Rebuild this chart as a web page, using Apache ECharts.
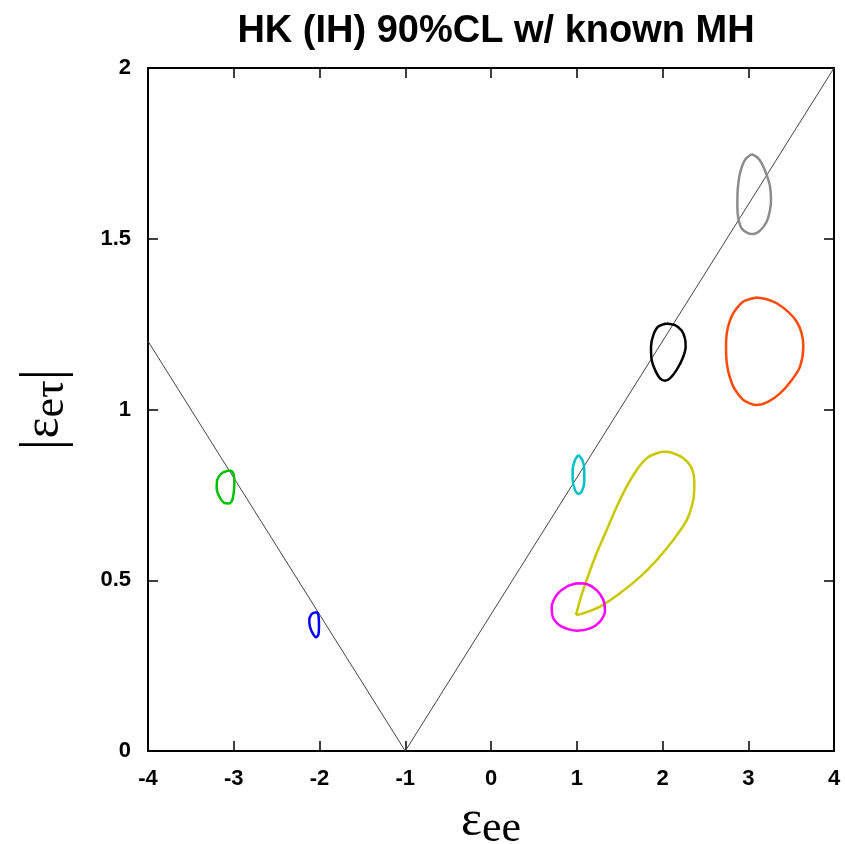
<!DOCTYPE html>
<html>
<head>
<meta charset="utf-8">
<script src="https://cdn.jsdelivr.net/npm/echarts@6/dist/echarts.min.js"></script>
<style>
  html, body { margin: 0; padding: 0; background: #fff; }
  #main { width: 845px; height: 844px; }
</style>
</head>
<body>
<div id="main"></div>
<script>
var myChart = echarts.init(document.getElementById('main'));

// reference line |eps_et| = 0.4 * |eps_ee + 1|
let vLine = [[-4, 1.2], [-1, 0], [4, 2]];

// 90% CL contours
let grayC = [[3.040,1.748],[2.962,1.731],[2.904,1.692],[2.877,1.643],[2.873,1.594],[2.884,1.560],[2.923,1.530],[3.001,1.516],[3.059,1.514],[3.137,1.524],[3.215,1.550],[3.254,1.584],[3.265,1.613],[3.254,1.653],[3.215,1.687],[3.157,1.721],[3.098,1.740],[3.040,1.748]];
let orangeC = [[3.098,1.328],[2.943,1.316],[2.826,1.282],[2.756,1.233],[2.741,1.184],[2.756,1.125],[2.826,1.067],[2.943,1.028],[3.098,1.013],[3.234,1.023],[3.370,1.047],[3.506,1.086],[3.603,1.125],[3.642,1.184],[3.623,1.223],[3.565,1.257],[3.467,1.286],[3.331,1.311],[3.215,1.323],[3.098,1.328]];
let blackC = [[2.049,1.252],[1.951,1.243],[1.893,1.218],[1.866,1.184],[1.874,1.145],[1.913,1.116],[1.971,1.091],[2.029,1.084],[2.087,1.091],[2.165,1.116],[2.235,1.150],[2.270,1.184],[2.262,1.208],[2.223,1.231],[2.146,1.247],[2.049,1.252]];
let yellowC = [[0.991,0.398],[1.038,0.442],[1.116,0.501],[1.232,0.579],[1.349,0.647],[1.466,0.715],[1.582,0.774],[1.699,0.823],[1.815,0.857],[1.932,0.872],[2.029,0.876],[2.126,0.872],[2.243,0.857],[2.340,0.828],[2.371,0.784],[2.359,0.735],[2.282,0.676],[2.126,0.618],[1.932,0.559],[1.738,0.510],[1.504,0.462],[1.271,0.423],[1.077,0.403],[0.991,0.398]];
let magentaC = [[0.999,0.491],[0.882,0.481],[0.766,0.457],[0.708,0.423],[0.727,0.388],[0.824,0.364],[0.999,0.352],[1.155,0.359],[1.271,0.379],[1.329,0.408],[1.310,0.442],[1.232,0.471],[1.116,0.489],[0.999,0.491]];
let cyanC = [[1.018,0.867],[0.980,0.852],[0.952,0.823],[0.952,0.794],[0.980,0.764],[1.018,0.753],[1.057,0.759],[1.088,0.789],[1.088,0.823],[1.065,0.852],[1.018,0.867]];
let greenC = [[-3.063,0.821],[-3.141,0.813],[-3.192,0.794],[-3.199,0.769],[-3.168,0.745],[-3.114,0.727],[-3.052,0.725],[-3.017,0.735],[-2.997,0.764],[-2.993,0.794],[-3.005,0.813],[-3.036,0.821],[-3.063,0.821]];
let blueC = [[-2.052,0.406],[-2.091,0.401],[-2.119,0.384],[-2.111,0.364],[-2.080,0.345],[-2.041,0.333],[-2.014,0.340],[-2.006,0.364],[-2.010,0.393],[-2.025,0.405],[-2.052,0.406]];

let contours = [
    { data: grayC, color: '#8c8c8c' },
    { data: orangeC, color: '#ff4a0a' },
    { data: blackC, color: '#000000' },
    { data: yellowC, color: '#c8c800' },
    { data: magentaC, color: '#ff00ff' },
    { data: cyanC, color: '#00c0c8' },
    { data: greenC, color: '#00c000' },
    { data: blueC, color: '#0000ff' }
];

let tickFont = { fontFamily: 'Liberation Sans, Arial', fontWeight: 'bold', fontSize: 22, color: '#000' };
let serif = 'Liberation Serif, DejaVu Serif';

let series = [{
    type: 'line',
    data: vLine,
    symbol: 'none',
    lineStyle: { color: '#444', width: 1 },
    silent: true
}];
contours.forEach(function (c) {
    series.push({
        type: 'line',
        data: c.data,
        symbol: 'none',
        smooth: 0.25,
        lineStyle: { color: c.color, width: 2.5 },
        silent: true
    });
});

function boxAxis(pos) {
    return {
        axisLine: { show: true, onZero: false, lineStyle: { color: '#000', width: 2 } },
        axisTick: { show: true, inside: true, length: 10, lineStyle: { color: '#000', width: 1.5 } },
        axisLabel: { show: false },
        splitLine: { show: false },
        position: pos
    };
}

var option = {
    animation: false,
    title: {
        text: 'HK (IH) 90%CL w/ known MH',
        left: 491,
        textAlign: 'center',
        top: 8,
        textStyle: { fontFamily: 'Liberation Sans, Arial', fontWeight: 'bold', fontSize: 38, color: '#000' }
    },
    grid: { left: 148, right: 11, top: 68, bottom: 93, outerBoundsMode: 'none' },
    xAxis: [Object.assign(boxAxis('bottom'), {
        type: 'value', min: -4, max: 4, interval: 1,
        axisLabel: Object.assign({ margin: 17 }, tickFont),
        name: '{a|ε}{b|ee}',
        nameLocation: 'middle',
        nameGap: 42,
        nameTextStyle: {
            rich: {
                a: { fontFamily: serif, fontSize: 50, color: '#000' },
                b: { fontFamily: serif, fontSize: 44, color: '#000', padding: [14, 0, 0, 0] }
            }
        }
    }), Object.assign(boxAxis('top'), {
        type: 'value', min: -4, max: 4, interval: 1
    })],
    yAxis: [Object.assign(boxAxis('left'), {
        type: 'value', min: 0, max: 2, interval: 0.5,
        axisLabel: Object.assign({ margin: 17 }, tickFont),
        name: '{c|\u007C}{a|ε}{b|eτ}{c|\u007C}',
        nameLocation: 'middle',
        nameRotate: 90,
        nameGap: 74,
        nameTextStyle: {
            rich: {
                c: { fontFamily: serif, fontSize: 59, color: '#000' },
                a: { fontFamily: serif, fontSize: 50, color: '#000' },
                b: { fontFamily: serif, fontSize: 44, color: '#000', padding: [14, 0, 0, 0] }
            }
        }
    }), Object.assign(boxAxis('right'), {
        type: 'value', min: 0, max: 2, interval: 0.5
    })],
    series: series
};

myChart.setOption(option);
</script>
</body>
</html>
